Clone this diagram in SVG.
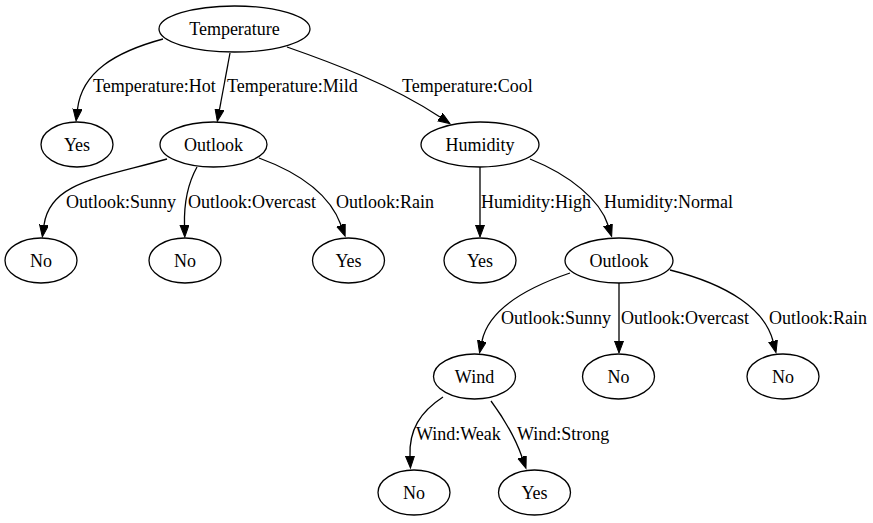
<svg xmlns="http://www.w3.org/2000/svg" width="873" height="523" viewBox="0 0 873 523">
<style>
ellipse{fill:#fff;stroke:#000;stroke-width:1.3}
text{font-family:'Liberation Serif',serif;font-size:18px;fill:#000}
.n{text-anchor:middle}
.e{fill:none;stroke:#000;stroke-width:1.3;marker-end:url(#a)}
</style>
<defs>
<marker id="a" markerUnits="userSpaceOnUse" markerWidth="14" markerHeight="10" refX="0" refY="4.5" orient="auto">
<path d="M0,0 L12,4.5 L0,9 z" fill="#000" stroke="#000" stroke-width="1"/>
</marker>
</defs>
<rect width="873" height="523" fill="#fff"/>
<g id="edges" font-family="Liberation Serif, serif">
<path class="e" d="M163,39 C115,52 82,72 77.5,109"/>
<path class="e" d="M230,53 L219.5,109.5"/>
<path class="e" d="M287,47 C330,62 390,84 440,117"/>
<path class="e" d="M167,159 C100,178 50,182 44,225"/>
<path class="e" d="M197,167 C187,185 184,205 184.5,225"/>
<path class="e" d="M259,158 C300,173 330,195 341,225"/>
<path class="e" d="M480,167 L480,225"/>
<path class="e" d="M530,159 C570,175 600,200 608,225"/>
<path class="e" d="M570,273 C520,290 488,312 482,341"/>
<path class="e" d="M619,283 L619,341"/>
<path class="e" d="M670,270 C730,285 765,310 773,341"/>
<path class="e" d="M443,397 C420,412 409,430 410,456"/>
<path class="e" d="M491,401 C505,420 516,440 522,457"/>
<text x="93" y="92">Temperature:Hot</text>
<text x="227" y="92">Temperature:Mild</text>
<text x="402" y="92">Temperature:Cool</text>
<text x="66" y="208">Outlook:Sunny</text>
<text x="188" y="208">Outlook:Overcast</text>
<text x="336" y="208">Outlook:Rain</text>
<text x="481" y="208">Humidity:High</text>
<text x="604" y="208">Humidity:Normal</text>
<text x="501" y="324">Outlook:Sunny</text>
<text x="621" y="324">Outlook:Overcast</text>
<text x="769" y="324">Outlook:Rain</text>
<text x="416" y="440">Wind:Weak</text>
<text x="517" y="440">Wind:Strong</text>
</g>
<g id="n_temperature"><ellipse cx="234.5" cy="29" rx="75.5" ry="23"/><text class="n" x="234.5" y="35">Temperature</text></g>
<g id="n_yes1"><ellipse cx="77" cy="144.5" rx="36" ry="22.5"/><text class="n" x="77" y="150.5">Yes</text></g>
<g id="n_outlook1"><ellipse cx="213.5" cy="144.5" rx="53.5" ry="22.5"/><text class="n" x="213.5" y="150.5">Outlook</text></g>
<g id="n_humidity"><ellipse cx="480" cy="144.5" rx="59" ry="22.5"/><text class="n" x="480" y="150.5">Humidity</text></g>
<g id="n_no1"><ellipse cx="41" cy="260.5" rx="36" ry="22.5"/><text class="n" x="41" y="266.5">No</text></g>
<g id="n_no2"><ellipse cx="185" cy="260.5" rx="36" ry="22.5"/><text class="n" x="185" y="266.5">No</text></g>
<g id="n_yes2"><ellipse cx="348.5" cy="260.5" rx="36" ry="22.5"/><text class="n" x="348.5" y="266.5">Yes</text></g>
<g id="n_yes3"><ellipse cx="480" cy="260.5" rx="36" ry="22.5"/><text class="n" x="480" y="266.5">Yes</text></g>
<g id="n_outlook2"><ellipse cx="619" cy="260.5" rx="54" ry="22.5"/><text class="n" x="619" y="266.5">Outlook</text></g>
<g id="n_wind"><ellipse cx="474.5" cy="376.5" rx="41" ry="22.5"/><text class="n" x="474.5" y="382.5">Wind</text></g>
<g id="n_no3"><ellipse cx="618.5" cy="376.5" rx="36" ry="22.5"/><text class="n" x="618.5" y="382.5">No</text></g>
<g id="n_no4"><ellipse cx="783" cy="376.5" rx="36" ry="22.5"/><text class="n" x="783" y="382.5">No</text></g>
<g id="n_no5"><ellipse cx="414" cy="492.5" rx="36" ry="22.5"/><text class="n" x="414" y="498.5">No</text></g>
<g id="n_yes4"><ellipse cx="534.5" cy="492.5" rx="36" ry="22.5"/><text class="n" x="534.5" y="498.5">Yes</text></g>
</svg>
